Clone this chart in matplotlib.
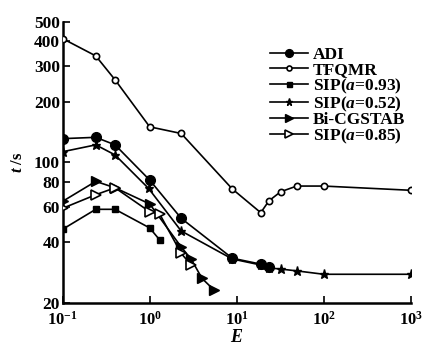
import matplotlib
matplotlib.use("Agg")
import matplotlib.pyplot as plt
from matplotlib.ticker import FixedLocator, NullLocator, FixedFormatter

plt.rcParams['font.family'] = ['Liberation Serif', 'DejaVu Serif']
plt.rcParams['mathtext.fontset'] = 'custom'
plt.rcParams['mathtext.rm'] = 'Liberation Serif:bold'
plt.rcParams['mathtext.it'] = 'Liberation Serif:italic:bold'
plt.rcParams['mathtext.bf'] = 'Liberation Serif:bold'

# Data
adi_x = [0.1, 0.24, 0.4, 1.0, 2.3, 8.9, 19, 23.7]
adi_y = [131, 133, 122, 81.5, 52.6, 33.3, 31.1, 30.0]

tfqmr_x = [0.1, 0.24, 0.4, 1.0, 2.3, 8.9, 18.9, 23.5, 32, 49, 100, 1000]
tfqmr_y = [412, 338, 257, 150, 139, 73.6, 56.1, 64.3, 71.3, 76.1, 76.1, 72.5]

sip93_x = [0.1, 0.24, 0.4, 1.0, 1.3]
sip93_y = [46.4, 58.3, 58.3, 47.1, 41.1]

sip52_x = [0.1, 0.24, 0.4, 0.97, 2.3, 8.9, 19, 23.7, 32, 49, 100, 1000]
sip52_y = [112.8, 122, 108.7, 74.1, 45.5, 33.0, 30.8, 29.8, 29.4, 28.8, 27.7, 27.7]

bicg_x = [0.1, 0.24, 0.4, 1.0, 2.3, 3.0, 4.0, 5.5]
bicg_y = [63.9, 80.3, 74.6, 62.0, 37.9, 32.9, 26.4, 23.1]

sip85_x = [0.1, 0.24, 0.4, 1.0, 1.3, 2.3, 3.0]
sip85_y = [59.0, 68.9, 74.6, 56.7, 55.3, 35.2, 30.8]

yticks = [20, 40, 60, 80, 100, 200, 300, 400, 500]
xticks = [0.1, 1, 10, 100, 1000]
xticklabels = [r'$\mathbf{10^{-1}}$', r'$\mathbf{10^{0}}$', r'$\mathbf{10^{1}}$',
               r'$\mathbf{10^{2}}$', r'$\mathbf{10^{3}}$']

fig = plt.figure(figsize=(4.25, 3.45), dpi=100)
ax = fig.add_axes([0.1475, 0.1226, 0.9664 - 0.1475, 0.937 - 0.1226])

lw = 1.2
ax.plot(adi_x, adi_y, '-', color='black', lw=lw, marker='o', ms=7, mfc='black', mec='black', label='ADI', zorder=3)
ax.plot(tfqmr_x, tfqmr_y, '-', color='black', lw=lw, marker='o', ms=4.5, mfc='white', mec='black', mew=1.2, label='TFQMR', zorder=3)
ax.plot(sip93_x, sip93_y, '-', color='black', lw=lw, marker='s', ms=4.5, mfc='black', mec='black', label=r'SIP($a$=0.93)', zorder=3)
ax.plot(sip52_x, sip52_y, '-', color='black', lw=lw, marker='*', ms=6.5, mfc='black', mec='black', label=r'SIP($a$=0.52)', zorder=2)
ax.plot(bicg_x, bicg_y, '-', color='black', lw=lw, marker='>', ms=6.5, mfc='black', mec='black', label='Bi-CGSTAB', zorder=3)
ax.plot(sip85_x, sip85_y, '-', color='black', lw=lw, marker='>', ms=6.5, mfc='white', mec='black', mew=1.2, label=r'SIP($a$=0.85)', zorder=3)

ax.set_xscale('log')
ax.set_yscale('log')
ax.set_xlim(0.1, 1000)
ax.set_ylim(20, 500)

ax.yaxis.set_major_locator(FixedLocator(yticks))
ax.yaxis.set_major_formatter(FixedFormatter([str(v) for v in yticks]))
ax.yaxis.set_minor_locator(NullLocator())
ax.xaxis.set_major_locator(FixedLocator(xticks))
ax.xaxis.set_major_formatter(FixedFormatter(xticklabels))
ax.xaxis.set_minor_locator(NullLocator())

ax.tick_params(direction='in', length=5, width=1.2)
ax.tick_params(axis='y', labelsize=12.5, pad=2)
ax.tick_params(axis='x', labelsize=12, pad=6)
for lab in ax.get_yticklabels():
    lab.set_fontweight('bold')

for s in ['top', 'right']:
    ax.spines[s].set_visible(False)
for s in ['left', 'bottom']:
    ax.spines[s].set_linewidth(1.8)

ax.set_xlabel(r'$E$', fontsize=13, labelpad=0)
ax.set_ylabel(r'$t$ /s', fontsize=12, fontweight='bold', labelpad=6)

leg = ax.legend(loc='upper left', bbox_to_anchor=(0.575, 0.935), frameon=False,
                prop={'family': 'Liberation Serif', 'weight': 'bold', 'size': 12.5},
                handlelength=2.2, handletextpad=0.3, labelspacing=-0.08, borderaxespad=0,
                markerscale=0.8)

fig.savefig('out.png', dpi=100)
